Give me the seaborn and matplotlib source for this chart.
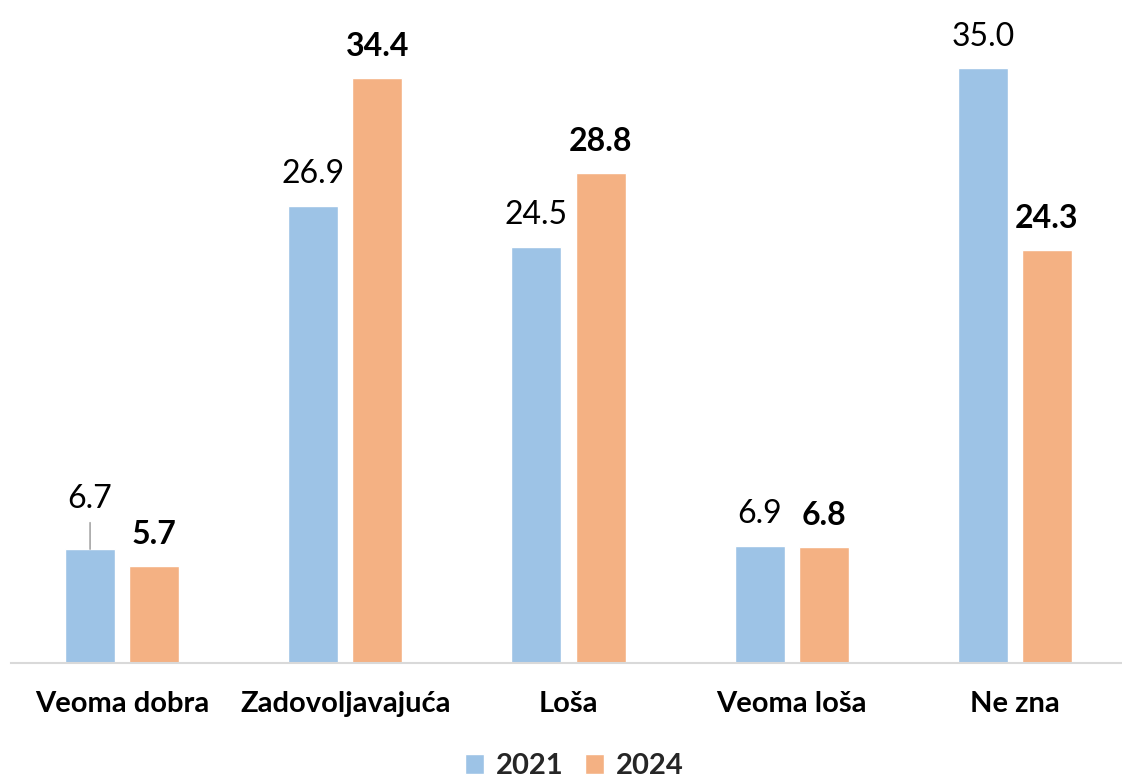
import matplotlib
matplotlib.use("Agg")
import matplotlib.pyplot as plt
from matplotlib.font_manager import FontProperties
import seaborn as sns
import pandas as pd

categories = ["Veoma dobra", "Zadovoljavajuća", "Loša", "Veoma loša", "Ne zna"]
years = ["2021", "2024"]
values_2021 = [6.7, 26.9, 24.5, 6.9, 35.0]
values_2024 = [5.7, 34.4, 28.8, 6.8, 24.3]

colors = {"2021": "#9DC3E6", "2024": "#F4B183"}

sns.set_theme(style="white")
plt.rcParams["font.family"] = ["Lato", "DejaVu Sans"]

df = pd.DataFrame({
    "category": categories * 2,
    "year": [years[0]] * len(categories) + [years[1]] * len(categories),
    "value": values_2021 + values_2024,
})

fig = plt.figure(figsize=(11.22, 7.77), dpi=100)
ax = fig.add_axes([10.5 / 1122, 114 / 777, 1116 / 1122, 663 / 777])

sns.barplot(data=df, x="category", y="value", hue="year", order=categories,
            hue_order=years, palette=colors, width=0.574, gap=0.22,
            saturation=1, ax=ax, legend=True)

ax.set_ylim(0, 39)
ax.set_xlim(-0.5, 4.5)
ax.set_xlabel("")
ax.set_ylabel("")
ax.set_yticks([])
for s in ["top", "right", "left"]:
    ax.spines[s].set_visible(False)
ax.spines["bottom"].set_color("#D9D9D9")
ax.spines["bottom"].set_linewidth(1.5)
ax.tick_params(axis="x", length=0, pad=20)
for lbl in ax.get_xticklabels():
    lbl.set_fontweight("bold")
    lbl.set_fontsize(21)
    lbl.set_color("black")

# value labels
for ci, cont in enumerate(ax.containers):
    bold = ci == 1
    for i, bar in enumerate(cont):
        h = bar.get_height()
        x = bar.get_x() + bar.get_width() / 2
        offset = 16
        if ci == 0 and i == 0:
            offset = 29.5
            ax.annotate("", xy=(x, h), xytext=(0, 19), textcoords="offset points",
                        arrowprops=dict(arrowstyle="-", color="#A6A6A6", lw=1.2,
                                        shrinkA=0, shrinkB=0))
        ax.annotate(f"{h:.1f}", xy=(x, h), xytext=(0, offset), textcoords="offset points",
                    ha="center", va="baseline", fontsize=23,
                    fontweight="bold" if bold else "normal", color="black")

handles, labels = ax.get_legend_handles_labels()
if ax.get_legend() is not None:
    ax.get_legend().remove()
legprop = FontProperties(family="Lato", weight="bold", size=21)
leg = fig.legend(handles, labels, loc="center", bbox_to_anchor=(0.512, 0.014),
                 ncol=2, frameon=False, handlelength=0.65, handleheight=0.65,
                 handletextpad=0.4, columnspacing=0.75, prop=legprop)
for t in leg.get_texts():
    t.set_fontproperties(legprop)

fig.savefig("out.png", dpi=100)
